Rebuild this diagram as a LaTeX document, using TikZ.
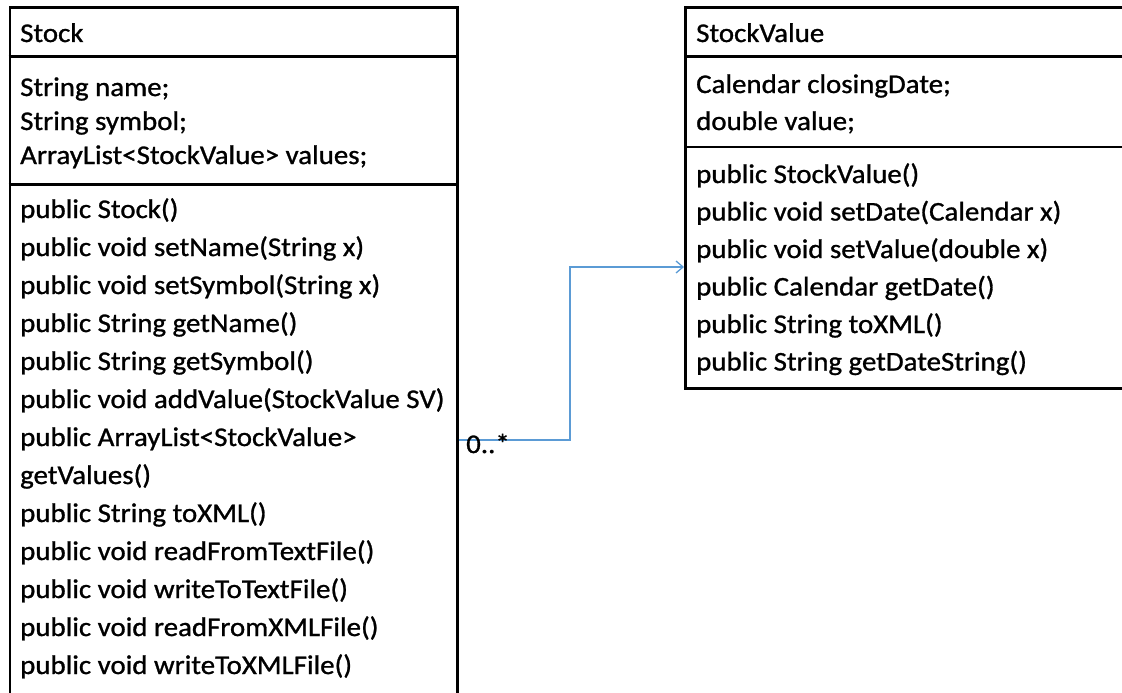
\documentclass[tikz,border=0pt]{standalone}
\usepackage{fontspec}
\setmainfont{Carlito}[FakeStretch=1.07,FakeBold=1]
\usetikzlibrary{arrows.meta}
\definecolor{linkblue}{HTML}{5B9BD5}
\begin{document}
\begin{tikzpicture}[x=1pt,y=-1pt,
  frame/.style={draw=black,line width=2.6pt},
  classbox/.style={frame,rectangle,inner sep=0pt,anchor=north west},
  member/.style={anchor=base west,inner sep=0pt,font=\fontsize{27}{32}\selectfont},
  assoc/.style={draw=linkblue,line width=1.6pt,
    -{Straight Barb[length=7pt,width=12pt,line width=1.3pt]}}]
\useasboundingbox (0,0) rectangle (1122,693);
\clip (0,0) rectangle (1122,693);

% class Stock (runs past the lower edge)
\node[classbox,minimum width=447.5pt,minimum height=730pt] (stock) at (8.5,6.5) {};
\draw[frame] (stock.west |- 0,56.5) -- (stock.east |- 0,56.5);
\draw[frame] (stock.west |- 0,184.5) -- (stock.east |- 0,184.5);
\node[member] (stockname) at (20,42) {Stock};
\foreach [count=\i] \t in {{String name;},{String symbol;},{ArrayList<StockValue> values;}}
  \node[member] (stockattr\i) at (20,{96+34*(\i-1)}) {\t};
\foreach [count=\i] \t in {{public Stock()},{public void setName(String x)},
  {public void setSymbol(String x)},{public String getName()},
  {public String getSymbol()},{public void addValue(StockValue SV)},
  {public ArrayList<StockValue>},{getValues()},{public String toXML()},
  {public void readFromTextFile()},{public void writeToTextFile()},
  {public void readFromXMLFile()},{public void writeToXMLFile()}}
  \node[member] (stockop\i) at (20,{218+38*(\i-1)}) {\t};

% class StockValue (runs past the right edge)
\node[classbox,minimum width=460pt,minimum height=380.5pt] (sv) at (684,6.5) {};
\draw[frame] (sv.west |- 0,56.5) -- (sv.east |- 0,56.5);
\draw[frame] (sv.west |- 0,147) -- (sv.east |- 0,147);
\node[member] (svname) at (696,42) {StockValue};
\foreach [count=\i] \t in {{Calendar closingDate;},{double value;}}
  \node[member] (svattr\i) at (696,{93+37*(\i-1)}) {\t};
\foreach [count=\i] \t in {{public StockValue()},{public void setDate(Calendar x)},
  {public void setValue(double x)},{public Calendar getDate()},
  {public String toXML()},{public String getDateString()}}
  \node[member] (svop\i) at (696,{183+37.5*(\i-1)}) {\t};

% association Stock -> StockValue
\coordinate (bend) at (570,0);
\draw[assoc] (stock.east |- 0,440) -| (bend |- 0,267) -- (sv.west |- 0,267);
\node[member] (mult) at (466,453) {0..*};
\end{tikzpicture}
\end{document}
